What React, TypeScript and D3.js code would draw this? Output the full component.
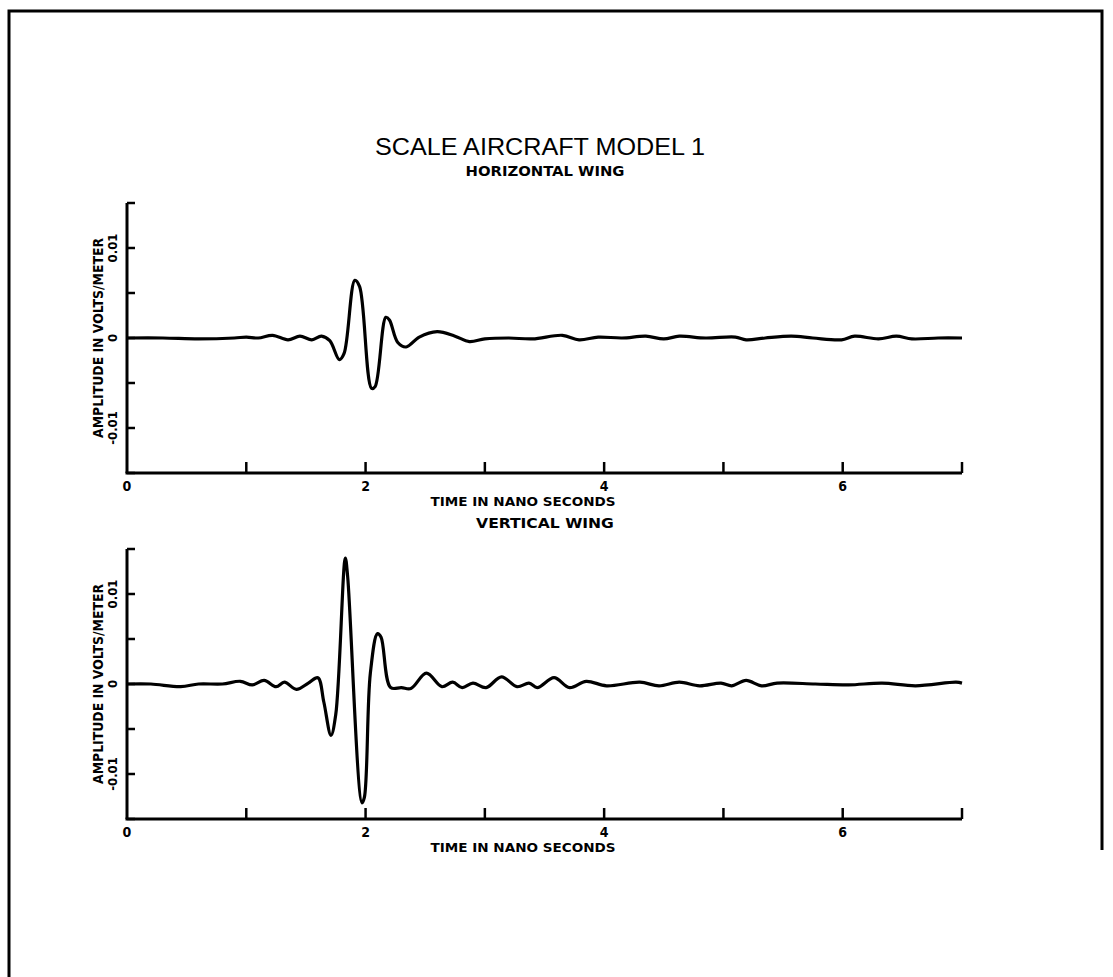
import React from 'react';
import * as d3 from 'd3';

// time (ns) and amplitude (V/m)
const horizTime = [0, 0.3, 0.6, 0.9, 1.0, 1.1, 1.22, 1.35, 1.45, 1.55, 1.63, 1.7, 1.78, 1.82, 1.91, 1.95, 2.05, 2.08, 2.17, 2.2, 2.27, 2.34, 2.45, 2.6, 2.75, 2.87, 3.0, 3.2, 3.4, 3.65, 3.79, 3.95, 4.15, 4.35, 4.5, 4.63, 4.85, 5.1, 5.19, 5.35, 5.57, 5.75, 5.99, 6.1, 6.3, 6.45, 6.58, 6.8, 7.0];
const horizAmp = [0, 0, -0.0001, 0, 0.0001, 0, 0.0003, -0.0002, 0.0002, -0.0002, 0.0002, -0.0003, -0.0024, -0.0017, 0.0064, 0.0057, -0.0056, -0.0054, 0.0023, 0.002, -0.0005, -0.001, 0.0001, 0.0007, 0.0002, -0.0004, -0.0001, 0, -0.0001, 0.0003, -0.0002, 0.0001, 0, 0.0002, -0.0001, 0.0002, 0, 0.0001, -0.0002, 0, 0.0002, 0, -0.0002, 0.0002, -0.0001, 0.0002, -0.0001, 0, 0];

const vertTime = [0, 0.2, 0.45, 0.6, 0.8, 0.95, 1.05, 1.15, 1.25, 1.32, 1.42, 1.52, 1.6, 1.65, 1.71, 1.75, 1.83, 1.85, 1.97, 1.99, 2.04, 2.1, 2.13, 2.21, 2.3, 2.38, 2.51, 2.64, 2.73, 2.81, 2.9, 3.01, 3.14, 3.27, 3.37, 3.44, 3.58, 3.71, 3.85, 4.02, 4.3, 4.46, 4.63, 4.8, 4.98, 5.07, 5.19, 5.32, 5.45, 5.77, 6.05, 6.33, 6.61, 6.95, 7.0];
const vertAmp = [0, 0, -0.0003, 0, 0, 0.0003, -0.0001, 0.0004, -0.0003, 0.0002, -0.0006, 0.0001, 0.0007, -0.002, -0.0057, -0.0034, 0.014, 0.0119, -0.0132, -0.0126, 0.0012, 0.0056, 0.0052, -0.0004, -0.0004, -0.0005, 0.0012, -0.0003, 0.0002, -0.0004, 0.0001, -0.0004, 0.0008, -0.0003, 0.0001, -0.0004, 0.0007, -0.0004, 0.0003, -0.0002, 0.0002, -0.0002, 0.0002, -0.0002, 0.0001, -0.0002, 0.0004, -0.0002, 0.0001, 0, -0.0001, 0.0001, -0.0002, 0.0002, 0.0001];

const xTicks = [0, 1, 2, 3, 4, 5, 6, 7];
const xTickLabels = ['0', '', '2', '', '4', '', '6', ''];
const yTicks = [-0.015, -0.01, -0.005, 0, 0.005, 0.01, 0.015];
const yTickLabels = [['0.01', 0.01], ['0', 0], ['-0.01', -0.01]] as [string, number][];

const panels = [
  { title: 'HORIZONTAL WING', time: horizTime, amp: horizAmp, zeroY: 338, titleGap: 27 },
  { title: 'VERTICAL WING', time: vertTime, amp: vertAmp, zeroY: 684, titleGap: 21 },
];

const font = '"DejaVu Sans Condensed", "Liberation Sans Narrow", "DejaVu Sans", sans-serif';

const x = d3.scaleLinear().domain([0, 7]).range([127, 962]);

const Panel = ({ p }: { p: typeof panels[0] }) => {
  const y = d3.scaleLinear().domain([-0.015, 0.015]).range([p.zeroY + 135, p.zeroY - 135]);
  const pts = p.time.map((t, i) => [t, p.amp[i]] as [number, number]);
  const line = d3.line<[number, number]>()
    .x(d => x(d[0]))
    .y(d => y(d[1]))
    .curve(d3.curveCatmullRom.alpha(0.5));
  const bottom = y(-0.015);
  const top = y(0.015);
  return (
    <g>
      <text x={545} y={top - p.titleGap} textAnchor="middle" fontFamily={font} fontWeight="bold" fontSize={14}
        textLength={p.title.length * 10.6} lengthAdjust="spacingAndGlyphs">{p.title}</text>
      {/* y axis */}
      <line x1={x(0)} x2={x(0)} y1={top} y2={bottom} stroke="#000" strokeWidth={3} />
      {yTicks.map(v => (
        <line key={v} x1={x(0)} x2={x(0) + 8} y1={y(v)} y2={y(v)} stroke="#000" strokeWidth={2.5} />
      ))}
      {yTickLabels.map(([s, v]) => (
        <text key={s} transform={`translate(${x(0) - 10},${y(v)}) rotate(-90)`} textAnchor="middle"
          fontFamily={font} fontWeight="bold" fontSize={13}>{s}</text>
      ))}
      <text transform={`translate(${x(0) - 24},${p.zeroY}) rotate(-90)`} textAnchor="middle"
        fontFamily={font} fontWeight="bold" fontSize={14} textLength={200} lengthAdjust="spacingAndGlyphs">
        AMPLITUDE IN VOLTS/METER
      </text>
      {/* x axis */}
      <line x1={x(0) - 1.5} x2={x(7)} y1={bottom} y2={bottom} stroke="#000" strokeWidth={3} />
      {xTicks.map(t => (
        <line key={t} x1={x(t)} x2={x(t)} y1={bottom} y2={bottom - (t === 0 ? 0 : 11)} stroke="#000" strokeWidth={2.5} />
      ))}
      {xTicks.map((t, i) => xTickLabels[i] && (
        <text key={t} x={x(t)} y={bottom + 18} textAnchor="middle" fontFamily={font} fontWeight="bold" fontSize={14}>
          {xTickLabels[i]}
        </text>
      ))}
      <text x={523} y={bottom + 33} textAnchor="middle" fontFamily={font} fontWeight="bold" fontSize={13}
        textLength={185} lengthAdjust="spacingAndGlyphs">TIME IN NANO SECONDS</text>
      <path d={line(pts) || ''} fill="none" stroke="#000" strokeWidth={3.2} strokeLinejoin="round" />
    </g>
  );
};

export default function App() {
  return (
    <svg width={1113} height={977} style={{ position: 'absolute', left: 0, top: 0, background: '#fff' }}>
      <rect width={1113} height={977} fill="#fff" />
      <path d="M9,977 L9,11 L1102,11 L1102,850" fill="none" stroke="#000" strokeWidth={3} />
      <text x={540} y={155} textAnchor="middle" fontFamily='"Liberation Sans", Arial, sans-serif' fontSize={24}
        textLength={330} lengthAdjust="spacingAndGlyphs">SCALE AIRCRAFT MODEL 1</text>
      {panels.map(p => <Panel key={p.title} p={p} />)}
    </svg>
  );
}
